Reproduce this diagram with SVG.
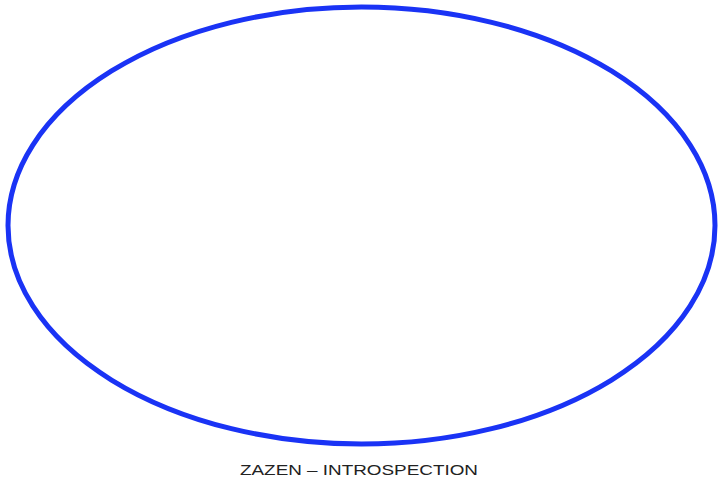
<svg xmlns="http://www.w3.org/2000/svg" width="718" height="482" viewBox="0 0 718 482">
<style>
.shape{fill:#ffffff;stroke:#1a33f5;stroke-width:5}
.label{font-family:"Liberation Sans",Arial,sans-serif;font-size:15px;fill:#222222;text-anchor:middle}
</style>
<rect width="718" height="482" fill="#ffffff"/>
<g id="connectors"></g>
<g id="node-zazen">
<ellipse class="shape" cx="361.5" cy="225.5" rx="353.5" ry="218.5"/>
<text class="label" x="359" y="475" textLength="238" lengthAdjust="spacingAndGlyphs">ZAZEN – INTROSPECTION</text>
</g>
</svg>
